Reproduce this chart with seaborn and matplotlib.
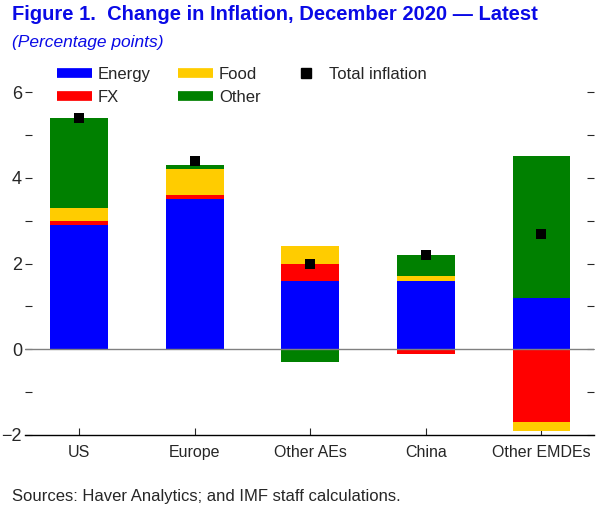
import pandas as pd
import matplotlib
matplotlib.use("Agg")
import matplotlib.pyplot as plt
from matplotlib.lines import Line2D
from matplotlib.ticker import MultipleLocator
import seaborn as sns

# data (percentage points)
regions = ['US', 'Europe', 'Other AEs', 'China', 'Other EMDEs']
energy = [2.9, 3.5, 1.6, 1.6, 1.2]
fx = [0.1, 0.1, 0.4, -0.1, -1.7]
food = [0.3, 0.6, 0.4, 0.1, -0.2]
other = [2.1, 0.1, -0.3, 0.5, 3.3]
total = [5.4, 4.4, 2.0, 2.2, 2.7]

components = {'Energy': energy, 'FX': fx, 'Food': food, 'Other': other}
colors = {'Energy': '#0000FF', 'FX': '#FF0000', 'Food': '#FFCC00', 'Other': '#008000'}

sns.set_style('white')
plt.rcParams['font.family'] = ['Liberation Sans', 'DejaVu Sans']

fig = plt.figure(figsize=(6.05, 5.16), dpi=100)
ax = fig.add_axes([0.041, 0.157, 0.94, 0.731])

# stack positives upwards and negatives downwards
pos_base = [0.0] * len(regions)
neg_base = [0.0] * len(regions)
for name, vals in components.items():
    bottoms = []
    for i, v in enumerate(vals):
        if v >= 0:
            bottoms.append(pos_base[i])
            pos_base[i] += v
        else:
            bottoms.append(neg_base[i])
            neg_base[i] += v
    sns.barplot(x=regions, y=vals, bottom=bottoms, color=colors[name],
                width=0.5, saturation=1, linewidth=0, ax=ax)

sns.scatterplot(x=regions, y=total, marker='s', s=55, color='black',
                edgecolor='black', linewidth=0, zorder=5, ax=ax)

ax.axhline(0, color='#808080', lw=1, zorder=1)
ax.set_ylim(-2, 6.8)
ax.set_xlim(-0.47, 4.45)
ax.yaxis.set_major_locator(MultipleLocator(2))
ax.yaxis.set_minor_locator(MultipleLocator(1))
ax.set_yticks([-2, 0, 2, 4, 6])
ax.set_yticklabels(['\u22122', '0', '2', '4', '6'])
ax.tick_params(axis='y', which='both', direction='in', left=True, right=True,
               length=5, width=0.8, labelsize=13, pad=2)
ax.tick_params(axis='x', direction='in', bottom=True, length=5, width=0.8,
               labelsize=11.5, pad=7)
for s in ['top', 'left', 'right']:
    ax.spines[s].set_visible(False)
ax.spines['bottom'].set_color('black')
ax.spines['bottom'].set_linewidth(1)
ax.set_xlabel('')
ax.set_ylabel('')

handles = [Line2D([0], [0], color=colors[n], lw=7, solid_capstyle='butt')
           for n in ['Energy', 'FX', 'Food', 'Other']]
handles.append(Line2D([0], [0], color='black', marker='s', ms=7, lw=0))
labels = ['Energy', 'FX', 'Food', 'Other', 'Total inflation']
ax.legend(handles, labels, ncol=3, frameon=False, fontsize=12,
          loc='upper left', bbox_to_anchor=(0.03, 1.015), handlelength=2.1,
          columnspacing=1.65, handletextpad=0.35, labelspacing=0.45)

fig.text(0.02, 0.972, 'Figure 1.  Change in Inflation, December 2020 \u2014 Latest',
         fontsize=14.5, fontweight='bold', color='#0A0AE6', va='center')
fig.text(0.02, 0.918, '(Percentage points)', fontsize=12.5, style='italic',
         color='#0A0AE6', va='center')
fig.text(0.02, 0.037, 'Sources: Haver Analytics; and IMF staff calculations.',
         fontsize=12, va='center')

fig.savefig('out.png', dpi=100)
